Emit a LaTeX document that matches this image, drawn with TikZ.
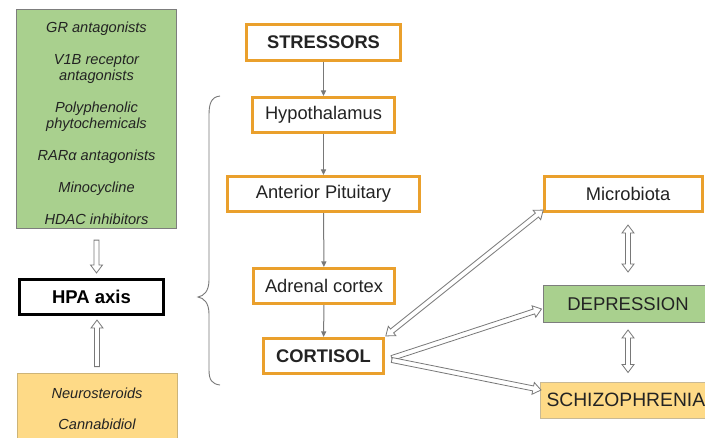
\documentclass[tikz,border=0pt]{standalone}
\usepackage{fontspec}
\setmainfont{Liberation Sans}
\usetikzlibrary{arrows.meta,calc}
\definecolor{orangeb}{RGB}{234,160,44}
\definecolor{greenf}{RGB}{169,208,142}
\definecolor{yellowf}{RGB}{254,218,135}
\definecolor{boxgray}{RGB}{125,125,125}
\definecolor{arrgray}{RGB}{120,120,120}
\definecolor{txt}{RGB}{35,35,35}
\tikzset{
  obox/.style={draw=orangeb, line width=2.6pt, fill=white, text=txt,
    font=\fontsize{18.3}{20}\selectfont, minimum height=35.5pt, inner sep=0pt},
  boldtxt/.style={font=\bfseries\fontsize{18.3}{20}\selectfont},
  thinarrow/.style={draw=arrgray, line width=1pt, -{Triangle[length=5.5pt,width=5pt]}},
  hollow/.style={draw=arrgray, fill=white, line width=0.8pt, line join=miter,
    to path={let \p1=(\tikztostart), \p2=(\tikztotarget),
      \n1={atan2(\y2-\y1,\x2-\x1)}, \n2={veclen(\x2-\x1,\y2-\y1)} in
      ($(\p1)+({\n1+90}:2.5pt)$) -- ++({\n1}:{\n2*1pt-8pt}) -- ++({\n1+90}:3.5pt) -- (\p2)
      -- ($(\p1)+({\n1-90}:6pt)+({\n1}:{\n2*1pt-8pt})$) -- ++({\n1+90}:3.5pt)
      -- ($(\p1)+({\n1-90}:2.5pt)$) -- cycle}},
  dhollow/.style={draw=arrgray, fill=white, line width=0.8pt, line join=miter,
    to path={let \p1=(\tikztostart), \p2=(\tikztotarget),
      \n1={atan2(\y2-\y1,\x2-\x1)}, \n2={veclen(\x2-\x1,\y2-\y1)} in
      (\p1) -- ($(\p1)+({\n1}:8pt)+({\n1+90}:6pt)$) -- ++({\n1-90}:3.5pt)
      -- ++({\n1}:{\n2*1pt-16pt}) -- ++({\n1+90}:3.5pt) -- (\p2)
      -- ($(\p2)+({\n1+180}:8pt)+({\n1-90}:6pt)$) -- ++({\n1+90}:3.5pt)
      -- ++({\n1+180}:{\n2*1pt-16pt}) -- ++({\n1-90}:3.5pt) -- cycle}},
}
\begin{document}
\begin{tikzpicture}[x=1pt,y=-1pt]
\useasboundingbox (0,0) rectangle (705,437);
\fill[white] (0,0) rectangle (705,437);
\clip (0,0) rectangle (705,437);

% left column
\node[draw=boxgray, line width=1.2pt, fill=greenf, text=txt, minimum width=160pt, minimum height=219pt,
  align=center, font=\itshape\fontsize{14.6}{16}\selectfont, inner sep=0pt] (drugs) at (96.5,119)
  {\rule{0pt}{19pt}GR antagonists\\[16pt]V1B receptor\\antagonists\\[16pt]Polyphenolic\\phytochemicals\\[16pt]RARα antagonists\\[16pt]Minocycline\\[16pt]HDAC inhibitors};
\node[draw=black, line width=2.6pt, fill=white, text=black, minimum width=144pt, minimum height=35.5pt,
  font=\bfseries\fontsize{18.5}{20}\selectfont, inner sep=0pt] (hpa) at (91.5,297) {HPA axis};
\node[draw={rgb,255:red,205;green,180;blue,120}, line width=0.8pt, fill=yellowf, text=txt, minimum width=160pt, minimum height=66pt,
  align=center, font=\itshape\fontsize{14.6}{31}\selectfont, inner sep=0pt] (other) at (97,406)
  {\rule{0pt}{16pt}Neurosteroids\\Cannabidiol};

\draw[hollow] ($(drugs.south)+(0,11)$) to ($(drugs.south |- hpa.north)+(0,-5)$);
\draw[hollow] ($(other.north)+(0,-6)$) to ($(other.north |- hpa.south)+(0,4)$);

% brace
\draw[draw=arrgray, line width=0.9pt] (220,96) .. controls (211,97) and (209,104) .. (209,115)
  -- (209,280) .. controls (209,291) and (204,296) .. (198,297)
  .. controls (204,298) and (209,303) .. (209,314)
  -- (209,370) .. controls (209,380) and (212,384) .. (220,385);

% center column
\node[obox, boldtxt, minimum width=154pt] (str) at (323.5,42.5) {STRESSORS};
\node[obox, minimum width=142pt] (hyp) at (323.5,115) {Hypothalamus};
\node[obox, minimum width=192pt] (pit) at (323.5,194) {Anterior Pituitary};
\node[obox, minimum width=141pt] (adr) at (324,286) {Adrenal cortex};
\node[obox, boldtxt, minimum width=120pt] (cor) at (323.5,356) {CORTISOL};

\draw[thinarrow] (str) -- (hyp);
\draw[thinarrow] (hyp) -- (pit);
\draw[thinarrow] (pit) -- (adr);
\draw[thinarrow] (adr) -- (cor);

% right column
\node[obox, minimum width=158pt] (mic) at (623.5,194) {\hspace*{9pt}Microbiota};
\node[draw=boxgray, line width=1pt, fill=greenf, text=txt, minimum width=170pt, minimum height=37pt,
  font=\fontsize{18.5}{20}\selectfont, inner sep=0pt] (dep) at (628,304) {DEPRESSION};
\node[draw={rgb,255:red,200;green,185;blue,150}, line width=1pt, fill=yellowf, text=txt, anchor=west,
  minimum width=180pt, minimum height=36pt, inner xsep=6pt, inner ysep=0pt,
  font=\fontsize{19.3}{20}\selectfont] (sch) at (540,400) {SCHIZOPHRENIA\hspace*{20pt}};

\draw[dhollow] ($(cor.north east)+(1,-1)$) to ($(mic.south west)+(0,-3)$);
\draw[hollow] ($(cor.east)+(7,2)$) to ($(dep.west)+(-1,5)$);
\draw[hollow] ($(cor.east)+(7,4)$) to ($(sch.west)+(1,-10)$);
\draw[dhollow] ($(mic.south -| dep.north)+(0,12)$) to ($(dep.north)+(0,-13)$);
\draw[dhollow] ($(dep.south)+(0,7)$) to ($(dep.south |- sch.north)+(0,-9)$);
\end{tikzpicture}
\end{document}
